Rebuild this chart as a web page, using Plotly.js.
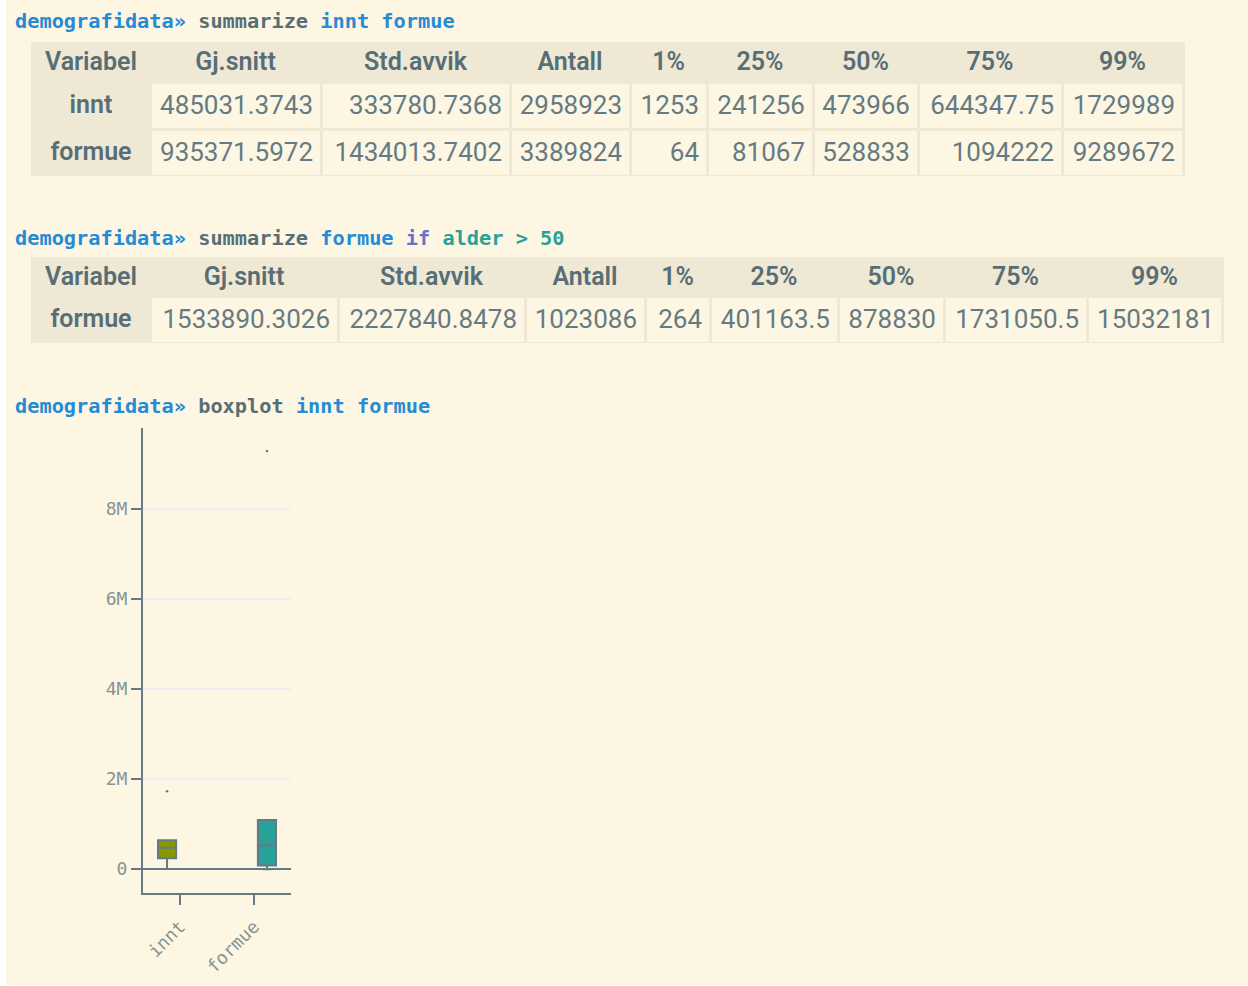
<!DOCTYPE html>
<html>
<head>
<meta charset="utf-8">
<script src="https://cdn.plot.ly/plotly-3.0.1.min.js"></script>
<style>
html,body{margin:0;padding:0;background:#ffffff;}
#plot{position:absolute;left:6px;top:0;width:1242px;height:985px;}
</style>
</head>
<body>
<div id="plot"></div>
<script>
// ---- data ----
const headers = ['Variabel','Gj.snitt','Std.avvik','Antall','1%','25%','50%','75%','99%'];

// summarize innt formue
const variables = ['innt','formue'];
const gjsnitt = [485031.3743, 935371.5972];
const stdavvik = [333780.7368, 1434013.7402];
const antall = [2958923, 3389824];
const p1 = [1253, 64];
const p25 = [241256, 81067];
const p50 = [473966, 528833];
const p75 = [644347.75, 1094222];
const p99 = [1729989, 9289672];

// summarize formue if alder > 50
const variablesAlder = ['formue'];
const gjsnittAlder = [1533890.3026];
const stdavvikAlder = [2227840.8478];
const antallAlder = [1023086];
const p1Alder = [264];
const p25Alder = [401163.5];
const p50Alder = [878830];
const p75Alder = [1731050.5];
const p99Alder = [15032181];

// commands
const commands = [
  [['demografidata»','#268bd2'],['summarize','#586e75'],['innt formue','#268bd2']],
  [['demografidata»','#268bd2'],['summarize','#586e75'],['formue','#268bd2'],['if','#6c71c4'],['alder','#2aa198'],['> 50','#2aa198']],
  [['demografidata»','#268bd2'],['boxplot','#586e75'],['innt formue','#268bd2']]
];

const boxColors = ['#859900','#2aa198'];

// ---- styles ----
const BG = '#fdf6e3';
const BASE2 = '#eee8d5';
const TXT = '#657b83';
const HEAD = '#586e75';
const CLEAR = 'rgba(0,0,0,0)';
const W = 1242, H = 985;
const px = x => (x - 6) / W;
const py = y => 1 - y / H;
const TEXT_SHIFT = 4.5;

function tableTraces(cols, widths, x0, x1, yTop, yBot, headH) {
  const nRows = cols[0].length;
  const fills = cols.map((c, i) => Array(nRows).fill(i === 0 ? BASE2 : BG));
  // background layer: header text, cell fills and borders
  const base = {
    type: 'table',
    domain: {x: [px(x0), px(x1)], y: [py(yBot), py(yTop)]},
    columnwidth: widths,
    header: {
      values: headers,
      align: 'center',
      height: headH,
      fill: {color: BASE2},
      line: {color: BASE2, width: 3},
      font: {family: 'Roboto, sans-serif', size: 25, color: HEAD, weight: 600}
    },
    cells: {
      values: cols.map(c => c.map(() => '')),
      height: 47,
      fill: {color: fills},
      line: {color: BASE2, width: 3},
      font: {family: 'Roboto, sans-serif', size: 26, color: TXT}
    }
  };
  // value layer: same table, rows shifted a little lower to centre the values
  const text = {
    type: 'table',
    domain: {x: [px(x0), px(x1)], y: [py(yBot + TEXT_SHIFT), py(yTop)]},
    columnwidth: widths,
    header: {
      values: headers.map(() => ''),
      height: headH + TEXT_SHIFT,
      fill: {color: CLEAR},
      line: {color: CLEAR, width: 0}
    },
    cells: {
      values: cols,
      align: cols.map((c, i) => i === 0 ? 'center' : 'right'),
      height: 47,
      fill: {color: CLEAR},
      line: {color: CLEAR, width: 0},
      font: {
        family: 'Roboto, sans-serif',
        size: cols.map((c, i) => i === 0 ? 25 : 26),
        color: cols.map((c, i) => i === 0 ? HEAD : TXT),
        weight: cols.map((c, i) => i === 0 ? 600 : 400)
      }
    }
  };
  return [base, text];
}

const t1 = tableTraces(
  [variables, gjsnitt, stdavvik, antall, p1, p25, p50, p75, p99],
  [118,171,189,120,77,106,105,144,121],
  32, 1183, 43, 176, 39);
const t2 = tableTraces(
  [variablesAlder, gjsnittAlder, stdavvikAlder, antallAlder, p1Alder, p25Alder, p50Alder, p75Alder, p99Alder],
  [118,188,187,120,65,128,106,143,135],
  32, 1222, 258, 343, 38);

const boxes = variables.map((v, i) => ({
  type: 'box',
  name: v,
  x0: v,
  y: [p1[i], p25[i], p50[i], p75[i], p99[i]],
  quartilemethod: 'inclusive',
  boxpoints: 'outliers',
  fillcolor: boxColors[i],
  line: {color: TXT, width: 2},
  marker: {color: TXT, size: 2.5},
  xaxis: 'x', yaxis: 'y',
  showlegend: false,
  hoverinfo: 'y'
}));

const annotations = commands.map((parts, k) => ({
  xref: 'paper', yref: 'paper',
  x: px(13), y: py([21, 238, 406][k]),
  xanchor: 'left', yanchor: 'middle',
  showarrow: false,
  align: 'left',
  font: {family: '"DejaVu Sans Mono", monospace', size: 20.3, weight: 'bold'},
  text: parts.map(p => '<span style="color:' + p[1] + '">' + p[0] + '</span>').join(' ')
}));

const axisFont = {family: '"DejaVu Sans Mono", monospace', size: 18, color: '#839496'};

const layout = {
  width: W, height: H,
  margin: {l: 0, r: 0, t: 0, b: 0},
  paper_bgcolor: BG,
  plot_bgcolor: BG,
  boxmode: 'group',
  showlegend: false,
  annotations: annotations,
  xaxis: {
    domain: [px(143), px(291)],
    anchor: 'y',
    type: 'category',
    range: [-0.5, 1.5],
    showline: true, linecolor: TXT, linewidth: 2,
    ticks: 'outside', ticklen: 10, tickwidth: 2, tickcolor: TXT,
    tickangle: -45,
    ticklabelstandoff: 4,
    tickfont: axisFont,
    showgrid: false,
    zeroline: false,
    automargin: false
  },
  yaxis: {
    domain: [py(893), py(428)],
    anchor: 'x',
    range: [-0.53e6, 9.8e6],
    dtick: 2e6,
    tick0: 0,
    exponentformat: 'B',
    showline: true, linecolor: TXT, linewidth: 2,
    ticks: 'outside', ticklen: 10, tickwidth: 2, tickcolor: TXT,
    tickfont: axisFont,
    showgrid: true, gridcolor: '#eceef1', gridwidth: 2,
    zeroline: true, zerolinecolor: TXT, zerolinewidth: 2,
    automargin: false
  }
};

Plotly.newPlot('plot', t1.concat(t2, boxes), layout, {displayModeBar: false, staticPlot: true});
</script>
</body>
</html>
